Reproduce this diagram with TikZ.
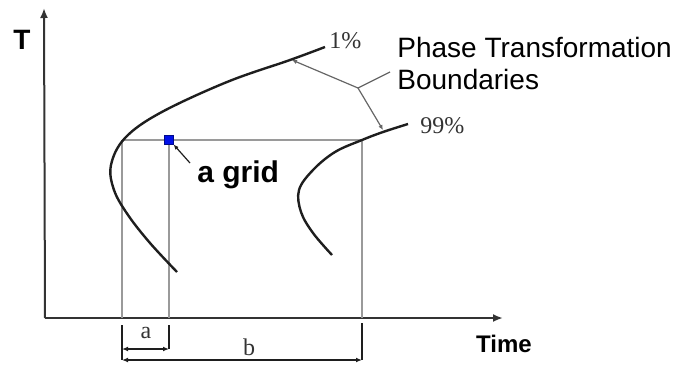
\documentclass[tikz,border=0pt]{standalone}
\usepackage{fontspec}
\setmainfont{Liberation Serif}
\setsansfont{Liberation Sans}
\usepackage{xcolor}
\definecolor{cInk}{HTML}{1E1E1E}
\definecolor{cAxis}{HTML}{333333}
\definecolor{cGrid}{HTML}{9A9A9A}
\definecolor{cLeader}{HTML}{666666}
\definecolor{cBox}{HTML}{0010E8}
\usetikzlibrary{positioning,arrows.meta}
\tikzset{
  axis-line/.style={draw=cAxis,line width=1pt,-{Latex[length=5pt,width=4pt]}},
  curve-line/.style={draw=cInk,line width=1.2pt},
  grid-line/.style={draw=cGrid,line width=0.8pt},
  dim-line/.style={draw=cInk,line width=0.6pt},
  dim-arrow/.style={draw=cInk,line width=0.6pt,{Latex[length=3pt,width=2.4pt]}-{Latex[length=3pt,width=2.4pt]}},
  leader-arrow/.style={draw=cLeader,line width=0.6pt,-{Latex[length=2.5pt,width=2.2pt]}},
  grid-box/.style={draw=cBox!60!black,fill=cBox,line width=0.4pt,
    minimum size=4.2pt,inner sep=0pt},
  label-sans/.style={font=\sffamily\fontsize{14}{16}\selectfont,inner sep=0pt},
  label-bold/.style={font=\sffamily\bfseries\fontsize{12}{14}\selectfont,inner sep=0pt},
  label-serif/.style={font=\rmfamily\fontsize{12}{14}\selectfont,text=cAxis,inner sep=0pt},
}

\begin{document}
\begin{tikzpicture}[x=0.5pt,y=-0.5pt]
  \useasboundingbox (0,0) rectangle (673,365);

  % axes
  \coordinate (origin) at (45,318);
  \coordinate (t-tip) at (44,8);
  \coordinate (time-tip) at (503,318);
  \draw[axis-line] (origin) -- (t-tip);
  \draw[axis-line] (origin) -- (time-tip);
  \node[label-bold,font=\sffamily\bfseries\fontsize{14}{16}\selectfont] (t-lbl) at (22,40) {T};
  \node[label-bold,anchor=base] (time-lbl) at (504,352) {Time};

  % grid lines
  \coordinate (left-top) at (122,140);
  \coordinate (right-top) at (362,140);
  \coordinate (left-foot) at (122,318);
  \coordinate (mid-foot) at (169,318);
  \coordinate (right-foot) at (362,318);
  \node[grid-box] (gridbox) at (169,140) {};
  \draw[grid-line] (left-top) -- (right-top);
  \draw[grid-line] (left-top) -- (left-foot);
  \draw[grid-line] (gridbox) -- (mid-foot);
  \draw[grid-line] (right-top) -- (right-foot);
  \node[grid-box] at (gridbox) {};

  % phase boundaries
  \draw[curve-line] plot[smooth,tension=0.6] coordinates {(325,47) (290,60) (227,82)
    (160,113) (125,138) (111,165) (114,190) (128,215) (150,243) (177,272)};
  \draw[curve-line] plot[smooth,tension=0.6] coordinates {(408,124) (383,132) (362,140)
    (335,152) (313,170) (299,190) (301,212) (313,233) (332,255)};
  \node[label-serif,anchor=base west] (one-lbl) at (329,48) {1\%};
  \node[label-serif,anchor=base west] (nn-lbl) at (420,133) {99\%};

  % leaders to the boundaries
  \coordinate (junction) at (358,88);
  \coordinate (on-one) at (292,60);
  \coordinate (on-nn) at (383,130);
  \coordinate (to-text) at (390,72);
  \node[label-sans,anchor=base west] (phase-lbl) at (397,57) {Phase Transformation};
  \node[label-sans,anchor=base west] (bound-lbl) at (397,89) {Boundaries};
  \draw[leader-arrow] (junction) -- (on-one);
  \draw[leader-arrow] (junction) -- (on-nn);
  \draw[draw=cLeader,line width=0.6pt] (junction) -- (to-text);

  % the grid label
  \node[label-sans,font=\sffamily\bfseries\fontsize{15}{17}\selectfont,anchor=base west]
    (grid-lbl) at (197,182) {a grid};
  \coordinate (grid-tail) at (190,163);
  \draw[leader-arrow,draw=cInk] (grid-tail) -- (gridbox.south east);

  % dimensions a and b
  \coordinate (a-left) at (122,349);
  \coordinate (a-right) at (169,349);
  \coordinate (b-left) at (122,360);
  \coordinate (b-right) at (362,360);
  \draw[dim-line] (122,325) -- (b-left);
  \draw[dim-line] (169,325) -- (a-right);
  \draw[dim-line] (362,323) -- (b-right);
  \draw[dim-arrow] (a-left) -- (a-right);
  \draw[dim-arrow] (b-left) -- (b-right);
  \node[label-serif,anchor=base] (a-lbl) at (146,338) {a};
  \node[label-serif,anchor=base] (b-lbl) at (249,355) {b};
\end{tikzpicture}
\end{document}
